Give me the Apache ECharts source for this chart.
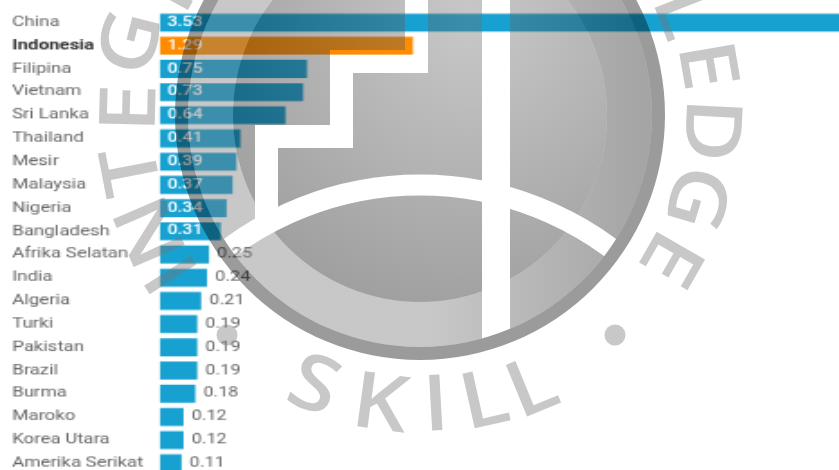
<!DOCTYPE html>
<html>
<head>
<meta charset="utf-8">
<title>Bar chart with seal</title>
<script src="https://cdn.jsdelivr.net/npm/echarts@6/dist/echarts.min.js"></script>
<style>
  html, body { margin: 0; padding: 0; width: 839px; height: 470px; overflow: hidden; background: #fff; }
  #chart { position: absolute; left: 0; top: 0; transform-origin: 0 0; }
  #seal { position: absolute; left: 0; top: 0; width: 839px; height: 470px; pointer-events: none; }
</style>
</head>
<body>
<div id="chart"></div>
<div id="seal"></div>
<script>
// Country names, top to bottom
const countries = ['China', 'Indonesia', 'Filipina', 'Vietnam', 'Sri Lanka', 'Thailand', 'Mesir', 'Malaysia',
  'Nigeria', 'Bangladesh', 'Afrika Selatan', 'India', 'Algeria', 'Turki', 'Pakistan', 'Brazil', 'Burma',
  'Maroko', 'Korea Utara', 'Amerika Serikat'];
const values = [3.53, 1.29, 0.75, 0.73, 0.64, 0.41, 0.39, 0.37, 0.34, 0.31, 0.25, 0.24, 0.21, 0.19, 0.19, 0.19,
  0.18, 0.12, 0.12, 0.11];
const highlighted = 'Indonesia';
const insideLabelCount = 10;

// The chart is drawn small and stretched up by the browser, which gives its soft, wide look
const SX = 1.8, SY = 1.3;
const chartEl = document.getElementById('chart');
chartEl.style.width = Math.ceil(839 / SX) + 'px';
chartEl.style.height = Math.ceil(470 / SY) + 'px';
chartEl.style.transform = 'scale(' + SX + ',' + SY + ')';

const BLUE = '#17a1d0', ORANGE = '#ff8c00';

const chart = echarts.init(chartEl, null, { renderer: 'canvas' });
chart.setOption({
  animation: false,
  backgroundColor: '#fff',
  grid: { left: 160 / SX, top: 10.9 / SY, width: 692 / SX, height: 464 / SY, outerBoundsMode: 'none' },
  xAxis: { type: 'value', min: 0, max: 3.53, show: false },
  yAxis: {
    type: 'category',
    inverse: true,
    data: countries,
    axisLine: { show: false },
    axisTick: { show: false },
    axisLabel: {
      align: 'left',
      margin: 148 / SX,
      fontFamily: 'Roboto',
      fontSize: 10.4,
      color: '#666',
      formatter: function (name) { return name === highlighted ? '{hl|' + name + '}' : name; },
      rich: { hl: { fontFamily: 'Roboto', fontSize: 10.4, fontWeight: 'bold', color: '#333' } }
    }
  },
  series: [{
    type: 'bar',
    barWidth: 18 / SY,
    data: values.map(function (v, i) {
      const inside = i < insideLabelCount;
      return {
        value: v,
        itemStyle: { color: countries[i] === highlighted ? ORANGE : BLUE },
        label: {
          show: true,
          position: inside ? 'insideLeft' : 'right',
          distance: inside ? 4 : 4.5,
          color: inside ? '#fff' : '#666',
          fontWeight: inside ? 500 : 'normal',
          fontFamily: 'Roboto',
          fontSize: 10,
          formatter: function (p) { return p.value.toFixed(2); }
        }
      };
    })
  }]
});

// Seal laid over the chart: a translucent emblem with a lettered ring
const CX = 420, CY = 115, alpha = 0.4;
const grey = function (g) { return 'rgba(' + g + ',' + g + ',' + g + ',' + alpha + ')'; };
const LETTER = grey(117);

const outerLetters = [
  ['I', 175, 272], ['N', 154, 230], ['T', 135, 170], ['E', 133, 108], ['G', 134, 43], ['R', 178, -18],
  ['L', 681, 14], ['E', 704, 66], ['D', 708, 130], ['G', 694, 197], ['E', 668, 257]
];
const innerLetters = [['S', 313, 388], ['K', 380, 407], ['I', 436, 408], ['L', 485, 403], ['L', 533, 390]];
const bullets = [[227, 335], [615, 335]];

function letter(item, inward) {
  const dx = item[1] - CX, dy = item[2] - CY;
  const turn = inward ? Math.atan2(-dx, dy) : Math.atan2(dx, -dy);
  return {
    type: 'text', x: item[1], y: item[2], rotation: -turn, scaleX: 1.12,
    style: {
      text: item[0], x: 0, y: 0, align: 'center', verticalAlign: 'middle',
      fontFamily: 'Open Sans', fontWeight: 600, fontSize: 78, fill: LETTER
    }
  };
}
const erase = { blend: 'destination-out' };

const seal = echarts.init(document.getElementById('seal'), null, { renderer: 'canvas' });
seal.setOption({
  animation: false,
  backgroundColor: 'transparent',
  graphic: [
    // light band
    { type: 'circle', shape: { cx: CX, cy: CY, r: 232 }, style: {
        fill: { type: 'linear', x: 430, y: 0, x2: 640, y2: 0, global: true,
          colorStops: [{ offset: 0, color: grey(117) }, { offset: 1, color: grey(30) }] } } },
    // inner disc, removed first so the band does not double up
    { type: 'circle', shape: { cx: CX, cy: CY, r: 187 }, style: Object.assign({ fill: '#000' }, erase) },
    { type: 'circle', shape: { cx: CX, cy: CY, r: 187 }, style: {
        fill: { type: 'radial', x: 470, y: 20, r: 290, global: true,
          colorStops: [{ offset: 0, color: grey(117) }, { offset: 1, color: grey(18) }] } } },
    // white cut-outs: staircase, upright and horizon
    { type: 'polyline', shape: { points: [[416.5, -20], [416.5, 61.5], [341.5, 61.5], [341.5, 136.5], [266.5, 136.5], [266.5, 220]] },
      style: Object.assign({ stroke: '#000', lineWidth: 23, fill: null, lineJoin: 'miter' }, erase) },
    { type: 'rect', shape: { x: 482, y: -10, width: 28, height: 360 }, style: Object.assign({ fill: '#000' }, erase) },
    { type: 'arc', shape: { cx: CX, cy: 505, r: 320, startAngle: Math.PI, endAngle: 2 * Math.PI, clockwise: true },
      style: Object.assign({ stroke: '#000', lineWidth: 21, fill: null }, erase) },
    // dark rim
    { type: 'ring', shape: { cx: CX, cy: CY, r: 245, r0: 232 }, style: { fill: grey(6) } }
  ]
    .concat(outerLetters.map(function (l) { return letter(l, false); }))
    .concat(innerLetters.map(function (l) { return letter(l, true); }))
    .concat(bullets.map(function (b) {
      return { type: 'circle', shape: { cx: b[0], cy: b[1], r: 10.5 }, style: { fill: LETTER } };
    }))
});
</script>
</body>
</html>
